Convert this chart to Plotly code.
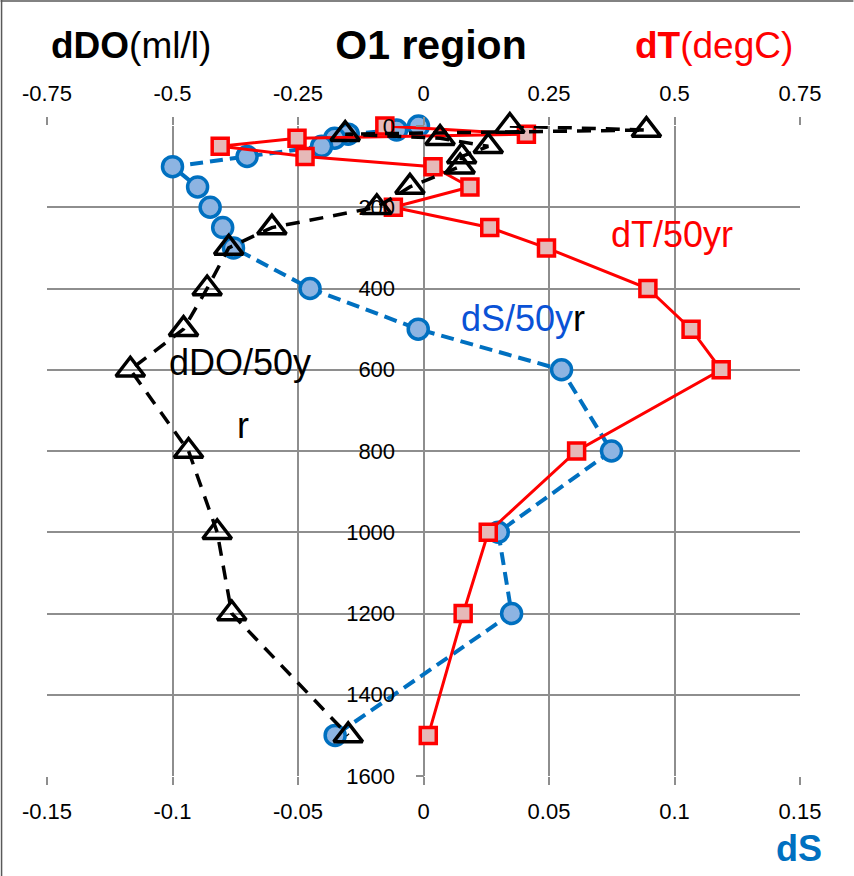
import plotly.graph_objects as go

# ---- data ----
depth_T = [0, 20, 30, 50, 75, 100, 150, 200, 250, 300, 400, 500, 600, 800, 1000, 1200, 1500]
dT = [-0.077, 0.205, -0.252, -0.405, -0.236, 0.019, 0.0925, -0.06, 0.132, 0.245, 0.447, 0.533, 0.593, 0.305, 0.129, 0.079, 0.0095]

depth_DO = [0, 10, 20, 30, 50, 75, 100, 150, 200, 250, 300, 400, 500, 600, 800, 1000, 1200, 1500]
dDO = [0.172, 0.444, -0.156, 0.033, 0.129, 0.076, 0.073, -0.027, -0.093, -0.302, -0.388, -0.431, -0.478, -0.584, -0.468, -0.411, -0.382, -0.150]

depth_S = [0, 10, 20, 30, 50, 75, 100, 150, 200, 250, 300, 400, 500, 600, 800, 1000, 1200, 1500]
dS = [-0.002, -0.0107, -0.030, -0.0354, -0.0406, -0.0703, -0.100, -0.090, -0.085, -0.080, -0.0757, -0.0452, -0.0021, 0.055, 0.0749, 0.0298, 0.0351, -0.0352]

top_ticks = [-0.75, -0.5, -0.25, 0, 0.25, 0.5, 0.75]
top_labels = ["-0.75", "-0.5", "-0.25", "0", "0.25", "0.5", "0.75"]
bot_ticks = [-0.15, -0.1, -0.05, 0, 0.05, 0.1, 0.15]
bot_labels = ["-0.15", "-0.1", "-0.05", "0", "0.05", "0.1", "0.15"]
y_ticks = [0, 200, 400, 600, 800, 1000, 1200, 1400, 1600]
y_labels = [str(v) for v in y_ticks]

FONT = "Liberation Sans"
GRID = "#8E8E8E"

fig = go.Figure()

fig.add_trace(go.Scatter(
    x=dT, y=depth_T, xaxis="x2", yaxis="y", mode="lines+markers",
    line=dict(color="#FF0000", width=3),
    marker=dict(symbol="square", size=16, color="#E6B9B8", line=dict(color="#FF0000", width=3.5)),
    showlegend=False, cliponaxis=False))

fig.add_trace(go.Scatter(
    x=dDO, y=depth_DO, xaxis="x2", yaxis="y", mode="lines+markers",
    line=dict(color="black", width=3.5, dash="14px,10px"),
    marker=dict(symbol="triangle-up-open", size=25, color="black", line=dict(color="black", width=3.5)),
    showlegend=False, cliponaxis=False))

fig.add_trace(go.Scatter(
    x=dS, y=depth_S, xaxis="x", yaxis="y", mode="lines+markers",
    line=dict(color="#0070C0", width=4, dash="13px,7px"),
    marker=dict(symbol="circle", size=20, color="#8DB4E2", line=dict(color="#0070C0", width=3.5)),
    showlegend=False, cliponaxis=False))

fig.update_layout(
    width=854, height=876, autosize=False,
    margin=dict(l=46.5, r=53.5, t=126, b=100, pad=0),
    paper_bgcolor="white", plot_bgcolor="white",
    font=dict(family=FONT, size=22, color="black"),
    title=dict(text="<b>O1 region</b>", font=dict(family=FONT, size=41, color="black"),
               x=431 / 854, xref="container", xanchor="center",
               y=1 - 45 / 876, yref="container", yanchor="middle"),
    xaxis=dict(range=[-0.15, 0.15], tickvals=bot_ticks, ticktext=bot_labels,
               side="bottom", showgrid=True, gridcolor=GRID, gridwidth=1.5,
               zeroline=False, showline=False, ticks="outside", ticklen=8,
               tickcolor=GRID, tickwidth=1.5, ticklabelstandoff=8,
               tickfont=dict(size=22), automargin=False, anchor="y"),
    xaxis2=dict(range=[-0.75, 0.75], tickvals=top_ticks, ticktext=top_labels,
                side="top", overlaying="x", showgrid=False, zeroline=False,
                showline=False, ticks="outside", ticklen=8, tickcolor=GRID,
                tickwidth=1.5, ticklabelstandoff=7, tickfont=dict(size=22),
                automargin=False, anchor="y"),
    yaxis=dict(range=[1600, 0], tickvals=y_ticks, ticktext=y_labels,
               showgrid=True, gridcolor=GRID, gridwidth=1.5, zeroline=False,
               showline=False, ticks="outside", ticklen=8, tickcolor=GRID,
               tickwidth=1.5, ticklabelstandoff=16, tickfont=dict(size=22),
               anchor="free", position=0.5, side="left", automargin=False),
)

ann = [
    dict(text="<b>dDO</b>(ml/l)", xref="paper", yref="paper", x=0.002, y=1.1246,
         xanchor="left", yanchor="middle", font=dict(size=37, color="black")),
    dict(text="<b>dT</b>(degC)", xref="paper", yref="paper", x=0.9927, y=1.1246,
         xanchor="right", yanchor="middle", font=dict(size=37, color="#FF0000")),
    dict(text="<b>dS</b>", xref="paper", yref="paper", x=0.9993, y=-0.1108,
         xanchor="center", yanchor="middle", font=dict(size=36, color="#0070C0")),
    dict(text="dT/50yr", xref="x2", yref="y", x=0.496, y=268,
         xanchor="center", yanchor="middle", font=dict(size=36, color="#FF0000")),
    dict(text="<span style='color:#0A52D6'>dS/50y</span><span style='color:black'>r</span>",
         xref="x2", yref="y", x=0.198, y=473,
         xanchor="center", yanchor="middle", font=dict(size=36)),
    dict(text="dDO/50y", xref="x2", yref="y", x=-0.365, y=581,
         xanchor="center", yanchor="middle", font=dict(size=36, color="black")),
    dict(text="r", xref="x2", yref="y", x=-0.359, y=738,
         xanchor="center", yanchor="middle", font=dict(size=36, color="black")),
]
for a in ann:
    a["showarrow"] = False
    fig.add_annotation(**a)

# outer chart frame (top and left edges)
pw, ph = 754, 650
fig.add_shape(type="line", xref="paper", yref="paper",
              x0=-46.5 / pw, x1=(854 - 46.5) / pw, y0=(650 + 126 - 1) / ph, y1=(650 + 126 - 1) / ph,
              line=dict(color="#595959", width=1.5))
fig.add_shape(type="line", xref="paper", yref="paper",
              x0=(-46.5 + 1) / pw, x1=(-46.5 + 1) / pw, y0=-100 / ph, y1=(650 + 126) / ph,
              line=dict(color="#595959", width=1.5))

fig.write_html("out.html")
